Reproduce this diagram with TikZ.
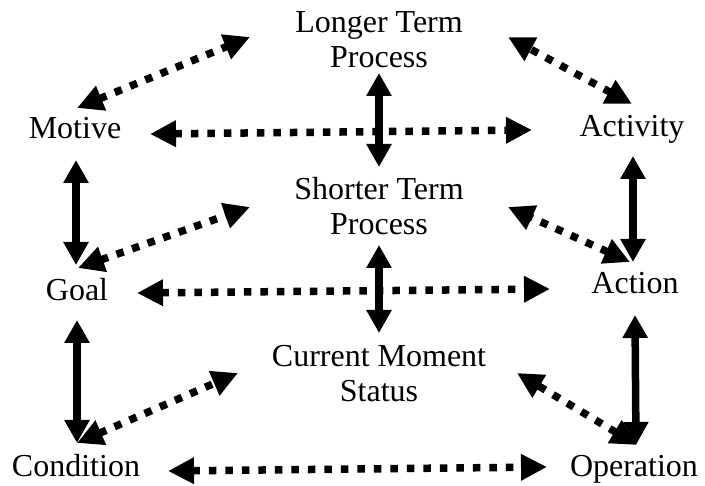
\documentclass[tikz,border=0pt]{standalone}
\usepackage{fontspec}
\setmainfont{Liberation Serif}
\usetikzlibrary{arrows.meta}
\begin{document}
\begin{tikzpicture}[x=1pt,y=-1pt,
  label/.style={inner sep=0pt,anchor=base,align=center,font=\fontsize{32}{35}\selectfont},
  firm/.style={line width=7.5pt,{Triangle[length=23pt,width=24pt]}-{Triangle[length=23pt,width=24pt]}},
  dotted link/.style={line width=7.5pt,dash pattern=on 7.5pt off 9pt,{Triangle[length=26pt,width=25pt]}-{Triangle[length=26pt,width=25pt]}}]
\useasboundingbox (0,0) rectangle (705,486);

% labels (multi-line labels sit on the baseline of their last line)
\node[label] (longer) at (379,68) {Longer Term\\Process};
\node[label] (shorter) at (379,235) {Shorter Term\\Process};
\node[label] (current) at (379,402) {Current Moment\\Status};
\node[label] (motive) at (75,139) {Motive};
\node[label] (goal) at (77,301) {Goal};
\node[label] (condition) at (76,477) {Condition};
\node[label] (activity) at (632,137) {Activity};
\node[label] (action) at (635,294) {Action};
\node[label] (operation) at (634,477) {Operation};

% solid vertical links
\draw[firm] ([shift={(1,21)}]motive.base) -- ([shift={(-1,-36)}]goal.base);
\draw[firm] ([shift={(0,19)}]goal.base) -- ([shift={(1,-34)}]condition.base);
\draw[firm] ([shift={(1,19)}]activity.base) -- ([shift={(-2,-32)}]action.base);
\draw[firm] ([shift={(0,21)}]action.base) -- ([shift={(2,-32)}]operation.base);
\draw[firm] ([shift={(0,5)}]longer.base) -- ([shift={(0,-68)}]shorter.base);
\draw[firm] ([shift={(0,10)}]shorter.base) -- ([shift={(0,-69)}]current.base);

% dotted horizontal links
\draw[dotted link] ([shift={(75,-5)}]motive.base) -- ([shift={(-100,-7)}]activity.base);
\draw[dotted link] ([shift={(60,-8)}]goal.base) -- ([shift={(-85,-5)}]action.base);
\draw[dotted link] ([shift={(92,-6)}]condition.base) -- ([shift={(-87,-10)}]operation.base);

% dotted diagonal links
\draw[dotted link] ([shift={(2,-31)}]motive.base) -- ([shift={(-129,-31)}]longer.base);
\draw[dotted link] ([shift={(0,-33)}]activity.base) -- ([shift={(129,-31)}]longer.base);
\draw[dotted link] ([shift={(1,-33)}]goal.base) -- ([shift={(-129,-28)}]shorter.base);
\draw[dotted link] ([shift={(-5,-32)}]action.base) -- ([shift={(129,-28)}]shorter.base);
\draw[dotted link] ([shift={(1,-34)}]condition.base) -- ([shift={(-141,-29)}]current.base);
\draw[dotted link] ([shift={(3,-32)}]operation.base) -- ([shift={(138,-29)}]current.base);
\end{tikzpicture}
\end{document}
